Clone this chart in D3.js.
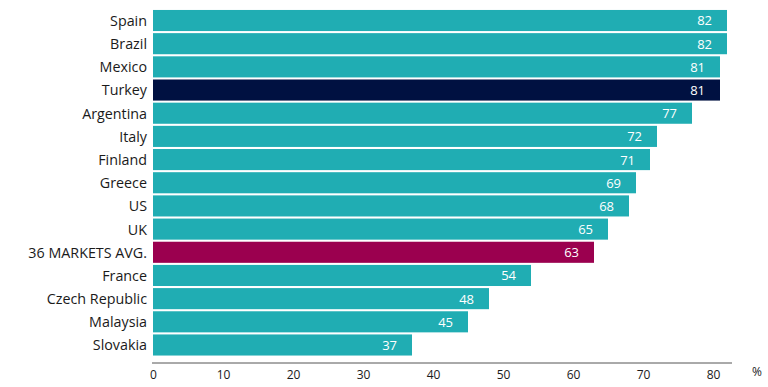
<!DOCTYPE html>
<html><head><meta charset="utf-8">
<script src="https://cdn.jsdelivr.net/npm/d3@7"></script>
<style>body{margin:0;background:#fff}svg{display:block}text{font-family:"Open Sans",sans-serif}</style>
</head><body><svg id="c" width="768" height="387"></svg>
<script>
const categories = ["Spain","Brazil","Mexico","Turkey","Argentina","Italy","Finland","Greece","US","UK","36 MARKETS AVG.","France","Czech Republic","Malaysia","Slovakia"];
const values = [82,82,81,81,77,72,71,69,68,65,63,54,48,45,37];
const highlight = {"Turkey":"#001141","36 MARKETS AVG.":"#9b004f"};
const tickValues = [0,10,20,30,40,50,60,70,80];
const svg = d3.select("#c");
const x = d3.scaleLinear().domain([0,80]).range([153,713]);
const y = d3.scaleBand().domain(categories).range([9.5,356]).paddingInner(0.09).paddingOuter(0.02);
svg.selectAll("rect.bar").data(categories).join("rect").attr("class","bar")
  .attr("x",x(0)).attr("y",d=>y(d)).attr("height",y.bandwidth())
  .attr("width",(d,i)=>x(values[i])-x(0))
  .attr("fill",d=>highlight[d]||"#20adb3");
svg.selectAll("text.val").data(categories).join("text").attr("class","val")
  .attr("x",(d,i)=>x(values[i])-15).attr("y",d=>y(d)+y.bandwidth()/2)
  .attr("dy","0.38em").attr("text-anchor","end").attr("fill","#fff").attr("font-size",13)
  .text((d,i)=>values[i]);
svg.selectAll("text.cat").data(categories).join("text").attr("class","cat")
  .attr("x",147).attr("y",d=>y(d)+y.bandwidth()/2)
  .attr("dy","0.38em").attr("text-anchor","end").attr("fill","#1a1a1a").attr("font-size",14.3)
  .text(d=>d);
const ax = svg.append("g").attr("transform","translate(0,363)")
  .call(d3.axisBottom(x).tickValues(tickValues).tickSize(0).tickPadding(7));
ax.select(".domain").attr("d","M152,0H732").attr("stroke","#555");
ax.selectAll("text").attr("font-size",12).attr("fill","#1a1a1a").style("font-family","Open Sans");
svg.append("text").attr("x",757).attr("y",376).attr("text-anchor","middle").attr("font-size",12).attr("fill","#1a1a1a").text("%");
</script></body></html>
